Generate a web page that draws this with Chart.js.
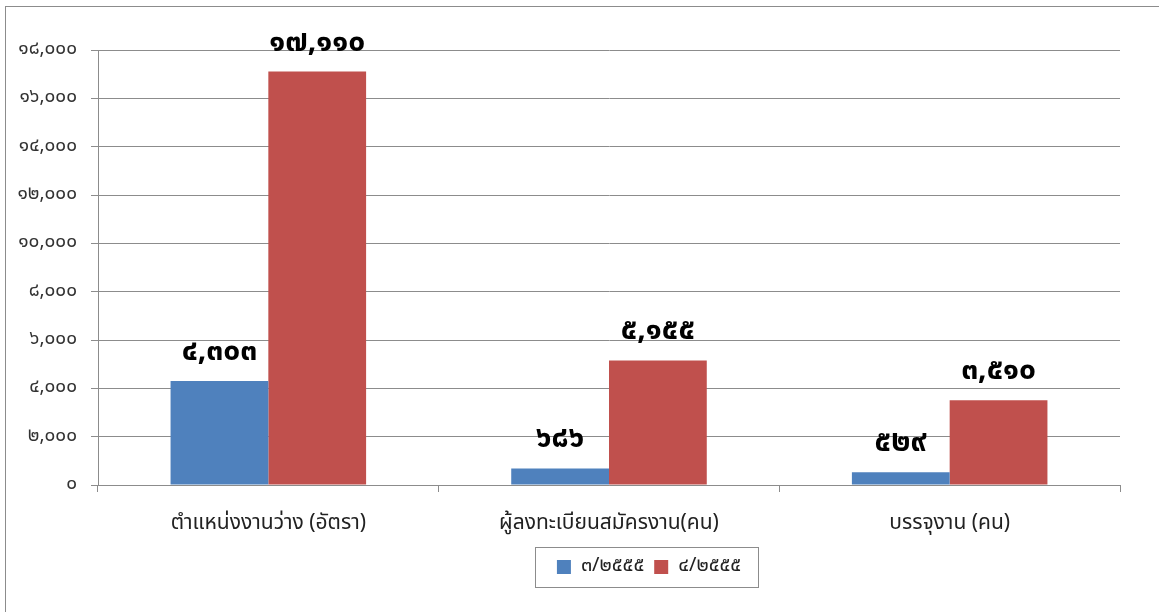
<!DOCTYPE html>
<html lang="th">
<head>
<meta charset="UTF-8" />
<title>Thai employment chart</title>
<script src="https://cdn.jsdelivr.net/npm/chart.js@4.4.0/dist/chart.umd.min.js"></script>
<style>
  html, body { margin: 0; padding: 0; background: #fff; overflow: hidden; }
  #wrap { position: relative; width: 1159px; height: 612px; overflow: hidden; }
  #frame { position: absolute; left: 5px; top: 6px; width: 1200px; height: 700px;
           border-left: 1px solid #8c8c8c; border-top: 1px solid #8c8c8c; }
  canvas { position: absolute; left: 0; top: 0; }
</style>
</head>
<body>
<div id="wrap">
  <div id="frame"></div>
  <canvas id="c" width="1159" height="612"></canvas>
</div>
<script>
const categories = ['ตำแหน่งงานว่าง (อัตรา)', 'ผู้ลงทะเบียนสมัครงาน(คน)', 'บรรจุงาน (คน)'];
const seriesNames = ['๓/๒๕๕๕', '๔/๒๕๕๕'];
const q3Values = [4303, 686, 529];
const q4Values = [17110, 5155, 3510];
const yMax = 18000;
const yStep = 2000;

const FONT = '"Noto Sans Thai", "Noto Sans", "DejaVu Sans", sans-serif';
const thaiDigits = ['๐','๑','๒','๓','๔','๕','๖','๗','๘','๙'];
function toThai(n) {
  return n.toLocaleString('en-US').replace(/[0-9]/g, d => thaiDigits[+d]);
}

// bold value labels above every bar
const valueLabels = {
  id: 'valueLabels',
  afterDatasetsDraw(chart) {
    const ctx = chart.ctx;
    ctx.save();
    ctx.font = 'bold 30px ' + FONT;
    ctx.fillStyle = '#000';
    ctx.textAlign = 'center';
    ctx.textBaseline = 'alphabetic';
    chart.data.datasets.forEach((ds, i) => {
      chart.getDatasetMeta(i).data.forEach((bar, j) => {
        ctx.fillText(toThai(ds.data[j]), bar.x, bar.y - 21);
      });
    });
    ctx.restore();
  }
};

// legend sits right of centre in the original, with a border round it
const legendBox = {
  id: 'legendBox',
  afterLayout(chart) {
    chart.legend.left += 86;
    chart.legend.right += 86;
  },
  afterDraw(chart) {
    const ctx = chart.ctx;
    ctx.save();
    ctx.strokeStyle = '#8c8c8c';
    ctx.lineWidth = 1;
    ctx.strokeRect(535.5, 547.5, 223, 40);
    ctx.restore();
  }
};

new Chart(document.getElementById('c'), {
  type: 'bar',
  data: {
    labels: categories,
    datasets: [
      { label: seriesNames[0], data: q3Values, backgroundColor: '#4f81bd' },
      { label: seriesNames[1], data: q4Values, backgroundColor: '#c0504d' }
    ]
  },
  options: {
    responsive: false,
    animation: false,
    layout: { padding: { left: 6, top: 50, right: 39, bottom: 25 } },
    datasets: { bar: { categoryPercentage: 0.574, barPercentage: 1 } },
    plugins: {
      legend: {
        position: 'bottom',
        labels: {
          font: { family: FONT, size: 20 },
          color: '#222',
          boxWidth: 14, boxHeight: 14,
          padding: 10
        }
      },
      tooltip: { enabled: false }
    },
    scales: {
      x: {
        grid: { drawOnChartArea: false, drawTicks: true, tickLength: 7, offset: true, color: '#8c8c8c' },
        border: { color: '#8c8c8c', width: 1 },
        ticks: { font: { family: FONT, size: 21 }, color: '#222', padding: 20 },
        afterFit(s) { s.height = 62; }
      },
      y: {
        min: 0, max: yMax,
        grid: { color: '#8c8c8c', tickLength: 7 },
        border: { color: '#8c8c8c' },
        ticks: {
          stepSize: yStep,
          font: { family: FONT, size: 19 },
          color: '#333',
          padding: 14,
          callback: v => toThai(v)
        },
        afterFit(s) { s.width = 92; }
      }
    }
  },
  plugins: [valueLabels, legendBox]
});
</script>
</body>
</html>
